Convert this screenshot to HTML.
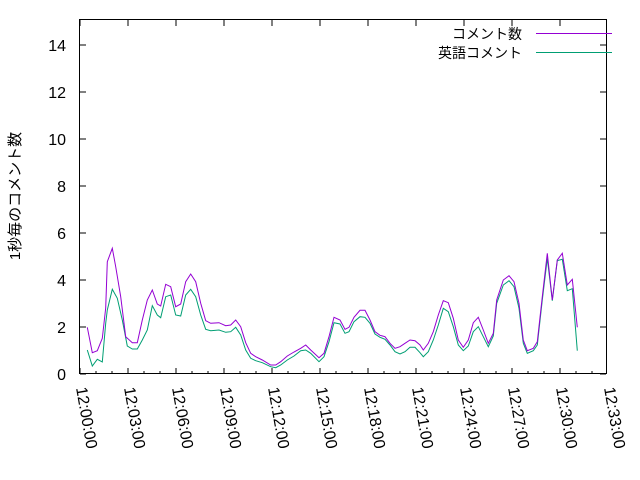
<!DOCTYPE html>
<html><head><meta charset="utf-8"><style>body{margin:0;background:#fff}svg{display:block}</style></head><body>
<svg width="640" height="480" xmlns="http://www.w3.org/2000/svg" font-family="Liberation Sans, Noto Sans CJK JP, sans-serif" font-size="16">
<rect x="0" y="0" width="640" height="480" fill="#fff"/>
<g stroke="#000" stroke-width="1" fill="none">
<rect x="79.5" y="19.5" width="527" height="354"/>
<path d="M80 374h6M80 327h6M80 280h6M80 233h6M80 186h6M80 139h6M80 92h6M80 45h6 M606 374h-6M606 327h-6M606 280h-6M606 233h-6M606 186h-6M606 139h-6M606 92h-6M606 45h-6"/>
<path d="M80 374v-6M128 374v-6M176 374v-6M224 374v-6M272 374v-6M320 374v-6M368 374v-6M416 374v-6M464 374v-6M512 374v-6M560 374v-6M80 20v6M128 20v6M176 20v6M224 20v6M272 20v6M320 20v6M368 20v6M416 20v6M464 20v6M512 20v6M560 20v6"/>
<path d="M96 374v-3M112 374v-3M144 374v-3M160 374v-3M192 374v-3M208 374v-3M240 374v-3M256 374v-3M288 374v-3M304 374v-3M336 374v-3M352 374v-3M384 374v-3M400 374v-3M432 374v-3M448 374v-3M480 374v-3M496 374v-3M528 374v-3M544 374v-3M576 374v-3M592 374v-3"/>
</g>
<g text-anchor="end" fill="#000">
<text x="66" y="380">0</text><text x="66" y="333">2</text><text x="66" y="286">4</text><text x="66" y="239">6</text><text x="66" y="192">8</text><text x="66" y="145">10</text><text x="66" y="98">12</text><text x="66" y="51">14</text>
</g>
<text transform="translate(20,196) rotate(-90)" text-anchor="middle" font-size="15">1秒毎のコメント数</text>
<g fill="#000">
<text transform="translate(76,388) rotate(80)">12:00:00</text>
<text transform="translate(124,388) rotate(80)">12:03:00</text>
<text transform="translate(172,388) rotate(80)">12:06:00</text>
<text transform="translate(220,388) rotate(80)">12:09:00</text>
<text transform="translate(268,388) rotate(80)">12:12:00</text>
<text transform="translate(316,388) rotate(80)">12:15:00</text>
<text transform="translate(364,388) rotate(80)">12:18:00</text>
<text transform="translate(412,388) rotate(80)">12:21:00</text>
<text transform="translate(460,388) rotate(80)">12:24:00</text>
<text transform="translate(508,388) rotate(80)">12:27:00</text>
<text transform="translate(556,388) rotate(80)">12:30:00</text>
<text transform="translate(604,388) rotate(80)">12:33:00</text>
</g>
<g font-size="14" text-anchor="end">
<text x="522" y="39">コメント数</text>
<text x="522" y="58">英語コメント</text>
</g>
<path d="M536 33.5h76" stroke="#9400d3"/>
<path d="M536 52.5h76" stroke="#009e73"/>
<polyline fill="none" stroke="#009e73" stroke-width="1" points="87.3,350 92.3,366 97.3,359.3 102.3,362 105.7,323.3 107.3,310 112.3,289.3 117.3,298.3 122.3,320 127.3,346 132.3,349 137.3,349 142.3,340 147.3,330 152.3,305.7 157.3,315 160.7,317.7 165.7,296.7 170.7,295 175.7,315 180.7,316 185.7,295 190.7,289.3 195.7,296.7 200.7,315 205.7,329.3 210.7,330.7 219,330 225.7,332.3 230.7,331.7 235.7,327.3 240.7,335 245.7,350 250.7,358.3 255.7,360.7 262.3,362.7 270.7,366.7 275.7,367.7 280.7,365 287.3,360 294,356 300.7,350.7 305.7,350 310.7,353.3 319,361.7 324,356.7 329,341.7 334,322.7 340,324 345,333.3 349,331.7 354,321.7 360,316.7 365,317.3 370,323.3 375,334 380,337.3 385,339.3 390,345 395,351.7 400,354 405,351.7 410,347.3 415,347.3 420,352.7 423.3,356.7 428.3,351.7 433.3,340 438.3,325 443.3,308.3 448.3,311.7 453.3,326.7 458.3,345 463.3,350.7 468.3,346 473.3,331.7 478.3,326.7 483.3,336.7 488.3,346.7 493.3,336 496.7,303.3 503.3,285 509,280.7 514,286.7 519,308.3 523.3,343.3 527.3,353.3 533.3,350.7 537.3,345 542.3,300 547.3,258.3 552.3,300.7 557.3,260.7 562.3,259.3 567.3,290.7 572.3,288.7 577.3,350.7"/>
<polyline fill="none" stroke="#9400d3" stroke-width="1" points="87.3,327.3 92.3,352.7 97.3,350.7 102.3,338.3 105.7,308 107.3,261.7 112.3,248.3 115.7,266.7 120.7,296.7 125.7,336.7 132.3,342.7 137.3,342.7 142.3,320 147.3,300 152.3,290 157.3,304 160.7,306 165.7,284.3 170.7,286.7 175.7,306.7 180.7,304 185.7,281.7 190.7,274 195.7,281.7 200.7,303.3 205.7,320.7 210.7,323.3 219,322.7 225.7,325.7 230.7,325 235.7,320 240.7,326.7 245.7,342.7 250.7,353.3 255.7,356.7 262.3,360 270.7,365 275.7,365 280.7,361.7 287.3,356 294,352 300.7,348.3 305.7,345 310.7,350 319,357.7 324,353.3 329,336.7 334,317.3 340,320 345,329.3 349,327.3 354,317.3 360,310.3 365,310.3 370,320 375,331.7 380,335.3 385,336.7 390,343.3 395,348.3 400,346.7 405,343.3 410,340 415,340.7 420,345 423.3,350 428.3,343.3 433.3,331.7 438.3,315 443.3,300.7 448.3,302.7 453.3,318.3 458.3,340 463.3,347.3 468.3,340 473.3,322.7 478.3,317.3 483.3,330 488.3,343.3 493.3,333.3 496.7,300 503.3,280 509,275.7 514,281.7 519,303.3 523.3,340 527.3,350.7 533.3,348.3 537.3,341.7 542.3,296.7 547.3,253.3 552.3,300 557.3,260 562.3,253.3 567.3,285 572.3,279.3 577.3,327.3"/>
</svg>
</body></html>
